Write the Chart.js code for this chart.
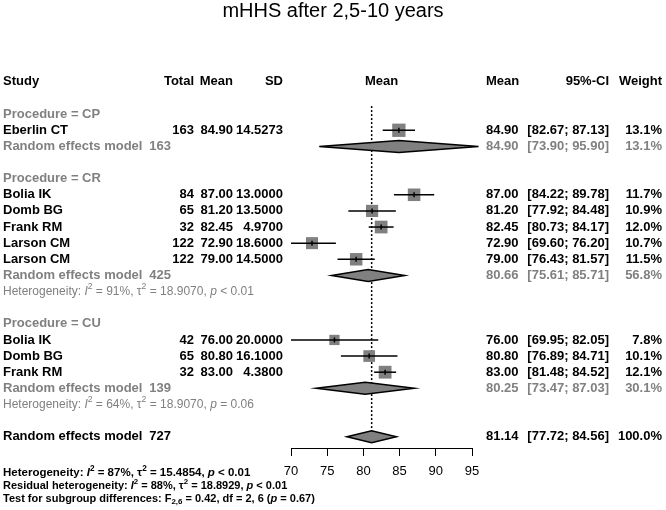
<!DOCTYPE html>
<html>
<head>
<meta charset="utf-8">
<script src="https://cdn.jsdelivr.net/npm/chart.js@4"></script>
<style>
  html, body { margin: 0; padding: 0; background: #fff; }
</style>
</head>
<body>
<canvas id="forest" width="666" height="510"></canvas>
<script>
// study level data
const studies = ["Eberlin CT", "Bolia IK", "Domb BG", "Frank RM", "Larson CM", "Larson CM", "Bolia IK", "Domb BG", "Frank RM"];
const groups = ["CP", "CR", "CR", "CR", "CR", "CR", "CU", "CU", "CU"];
const totals = [163, 84, 65, 32, 122, 122, 42, 65, 32];
const means = [84.90, 87.00, 81.20, 82.45, 72.90, 79.00, 76.00, 80.80, 83.00];
const sds = [14.5273, 13.0, 13.5, 4.97, 18.6, 14.5, 20.0, 16.1, 4.38];
const ciLow = [82.67, 84.22, 77.92, 80.73, 69.60, 76.43, 69.95, 76.89, 81.48];
const ciHigh = [87.13, 89.78, 84.48, 84.17, 76.20, 81.57, 82.05, 84.71, 84.52];
const weights = [13.1, 11.7, 10.9, 12.0, 10.7, 11.5, 7.8, 10.1, 12.1];

// subgroup random effects
const subgroupNames = ["CP", "CR", "CU"];
const subgroupTotals = [163, 425, 139];
const subgroupMeans = [84.90, 80.66, 80.25];
const subgroupLow = [73.90, 75.61, 73.47];
const subgroupHigh = [95.90, 85.71, 87.03];
const subgroupWeights = [13.1, 56.8, 30.1];
const subgroupI2 = [null, 91, 64];
const subgroupTau2 = [null, 18.9070, 18.9070];
const subgroupP = [null, "< 0.01", "= 0.06"];

// overall
const overallTotal = 727;
const overallMean = 81.14;
const overallLow = 77.72;
const overallHigh = 84.56;
const overallWeight = 100.0;
const overallI2 = 87, overallTau2 = 15.4854, overallP = "< 0.01";
const residualI2 = 88, residualTau2 = 18.8929, residualP = "< 0.01";
const testF = 0.42, testDf = [2, 6], testP = 0.67;

const xTicks = [70, 75, 80, 85, 90, 95];

const FONT = "'Liberation Sans', Arial, sans-serif";
const GREY = "#808080";

// row layout
const rows = [];
const studyRow = [];
let r = 0;
subgroupNames.forEach((g, gi) => {
  rows.push({ type: "group", row: r++, gi });
  studies.forEach((s, i) => {
    if (groups[i] === g) {
      studyRow[i] = r;
      rows.push({ type: "study", row: r++, i });
    }
  });
  rows.push({ type: "pooled", row: r++, gi });
  if (subgroupI2[gi] !== null) rows.push({ type: "het", row: r++, gi });
  r++;
});
const overallRow = r;

function ci(lo, hi) {
  return "[" + lo.toFixed(2) + "; " + hi.toFixed(2) + "]";
}

function drawRich(ctx, parts, x, y, size, weight, color) {
  let cx = x;
  ctx.fillStyle = color;
  ctx.textAlign = "left";
  parts.forEach((p) => {
    const s = p.sup || p.sub ? size * 0.72 : size;
    ctx.font = (p.it ? "italic " : "") + weight + " " + s + "px " + FONT;
    const dy = p.sup ? -size * 0.4 : p.sub ? size * 0.3 : 0;
    ctx.fillText(p.t, cx, y + dy);
    cx += ctx.measureText(p.t).width;
  });
}

function hetParts(label, i2, tau2, p) {
  return [
    { t: label + ": " }, { t: "I", it: true }, { t: "2", sup: true },
    { t: " = " + i2 + "%, " }, { t: "\u03c4" }, { t: "2", sup: true },
    { t: " = " + tau2.toFixed(4) + ", " }, { t: "p", it: true }, { t: " " + p },
  ];
}

const forestPlugin = {
  id: "forest",
  beforeDatasetsDraw(chart) {
    const { ctx, scales: { x, y } } = chart;
    const px = x.getPixelForValue(overallMean);
    ctx.save();
    ctx.strokeStyle = "#000";
    ctx.lineWidth = 1.5;
    ctx.setLineDash([2, 2]);
    ctx.beginPath();
    ctx.moveTo(px, y.getPixelForValue(-0.5));
    ctx.lineTo(px, y.getPixelForValue(overallRow));
    ctx.stroke();
    ctx.restore();
  },
  afterDatasetsDraw(chart) {
    const { ctx, scales: { x, y } } = chart;
    const diamond = (lo, m, hi, row) => {
      const py = y.getPixelForValue(row);
      ctx.beginPath();
      ctx.moveTo(x.getPixelForValue(lo), py);
      ctx.lineTo(x.getPixelForValue(m), py - 6);
      ctx.lineTo(x.getPixelForValue(hi), py);
      ctx.lineTo(x.getPixelForValue(m), py + 6);
      ctx.closePath();
      ctx.fill();
      ctx.stroke();
    };
    ctx.save();
    ctx.fillStyle = GREY;
    ctx.strokeStyle = "#000";
    ctx.lineWidth = 1.5;
    rows.filter((o) => o.type === "pooled").forEach((o) => {
      diamond(subgroupLow[o.gi], subgroupMeans[o.gi], subgroupHigh[o.gi], o.row);
    });
    diamond(overallLow, overallMean, overallHigh, overallRow);
    ctx.restore();
  },
  afterDraw(chart) {
    const { ctx, scales: { x, y }, chartArea } = chart;
    const bold = "bold 13px " + FONT;
    const put = (t, px, row, align, color, font) => {
      ctx.font = font || bold;
      ctx.fillStyle = color || "#000";
      ctx.textAlign = align;
      ctx.fillText(t, px, y.getPixelForValue(row));
    };
    ctx.save();
    ctx.textBaseline = "middle";

    // title
    ctx.font = "20px " + FONT;
    ctx.fillStyle = "#000";
    ctx.textAlign = "center";
    ctx.fillText("mHHS after 2,5-10 years", 333, 11);

    // column headers
    const hr = -2;
    put("Study", 3, hr, "left");
    put("Total", 194, hr, "right");
    put("Mean", 233, hr, "right");
    put("SD", 283, hr, "right");
    put("Mean", (chartArea.left + chartArea.right) / 2, hr, "center");
    put("Mean", 486, hr, "left");
    put("95%-CI", 609, hr, "right");
    put("Weight", 662, hr, "right");

    rows.forEach((o) => {
      if (o.type === "group") {
        put("Procedure = " + subgroupNames[o.gi], 3, o.row, "left", GREY);
      } else if (o.type === "study") {
        const i = o.i;
        put(studies[i], 3, o.row, "left");
        put(String(totals[i]), 194, o.row, "right");
        put(means[i].toFixed(2), 233, o.row, "right");
        put(sds[i].toFixed(4), 283, o.row, "right");
        put(means[i].toFixed(2), 486, o.row, "left");
        put(ci(ciLow[i], ciHigh[i]), 609, o.row, "right");
        put(weights[i].toFixed(1) + "%", 662, o.row, "right");
      } else if (o.type === "pooled") {
        const g = o.gi;
        put("Random effects model", 3, o.row, "left", GREY);
        put(String(subgroupTotals[g]), 171, o.row, "right", GREY);
        put(subgroupMeans[g].toFixed(2), 486, o.row, "left", GREY);
        put(ci(subgroupLow[g], subgroupHigh[g]), 609, o.row, "right", GREY);
        put(subgroupWeights[g].toFixed(1) + "%", 662, o.row, "right", GREY);
      } else if (o.type === "het") {
        const g = o.gi;
        drawRich(ctx, hetParts("Heterogeneity", subgroupI2[g], subgroupTau2[g], subgroupP[g]),
          3, y.getPixelForValue(o.row), 12, "normal", GREY);
      }
    });

    // overall row
    put("Random effects model", 3, overallRow, "left");
    put(String(overallTotal), 171, overallRow, "right");
    put(overallMean.toFixed(2), 486, overallRow, "left");
    put(ci(overallLow, overallHigh), 609, overallRow, "right");
    put(overallWeight.toFixed(1) + "%", 662, overallRow, "right");

    // footer
    const fb = chartArea.bottom;
    drawRich(ctx, hetParts("Heterogeneity", overallI2, overallTau2, overallP), 3, fb + 25, 11.5, "bold", "#000");
    drawRich(ctx, hetParts("Residual heterogeneity", residualI2, residualTau2, residualP), 3, fb + 38, 11, "bold", "#000");
    drawRich(ctx, [
      { t: "Test for subgroup differences: F" }, { t: testDf.join(","), sub: true },
      { t: " = " + testF.toFixed(2) + ", df = " + testDf.join(", ") + " (" }, { t: "p", it: true },
      { t: " = " + testP.toFixed(2) + ")" },
    ], 3, fb + 51, 11, "bold", "#000");
    ctx.restore();
  },
};

const datasets = [];
// small vertical mark at each estimate
datasets.push({
  data: studies.map((s, i) => ({ x: means[i], y: studyRow[i] })),
  pointStyle: "line",
  rotation: 90,
  pointRadius: 2.5,
  borderWidth: 1.5,
  borderColor: "#000",
  order: 1,
});
// confidence intervals
studies.forEach((s, i) => {
  datasets.push({
    data: [{ x: ciLow[i], y: studyRow[i] }, { x: ciHigh[i], y: studyRow[i] }],
    showLine: true,
    borderColor: "#000",
    borderWidth: 1.5,
    pointRadius: 0,
    order: 2,
  });
});
// weighted squares
datasets.push({
  data: studies.map((s, i) => ({ x: means[i], y: studyRow[i] })),
  pointStyle: "rect",
  pointRadius: weights.map((w) => Math.sqrt(w) * 2.6),
  backgroundColor: GREY,
  borderWidth: 0,
  order: 3,
});

new Chart(document.getElementById("forest"), {
  type: "scatter",
  data: { datasets },
  options: {
    responsive: false,
    devicePixelRatio: 1,
    animation: false,
    events: [],
    layout: { padding: { left: 291, right: 194, top: 98, bottom: 0 } },
    plugins: { legend: { display: false }, tooltip: { enabled: false } },
    scales: {
      x: {
        type: "linear",
        min: 70,
        max: 95,
        afterBuildTicks: (s) => { s.ticks = xTicks.map((v) => ({ value: v })); },
        afterFit: (s) => { s.height = 62; },
        ticks: { font: { family: FONT, size: 13 }, color: "#000", padding: 8 },
        grid: { drawOnChartArea: false, drawTicks: true, tickLength: 8, color: "#000", lineWidth: 1 },
        border: { display: true, color: "#000", width: 1 },
      },
      y: { type: "linear", display: false, min: -1, max: 20.7, reverse: true },
    },
  },
  plugins: [forestPlugin],
});
</script>
</body>
</html>
